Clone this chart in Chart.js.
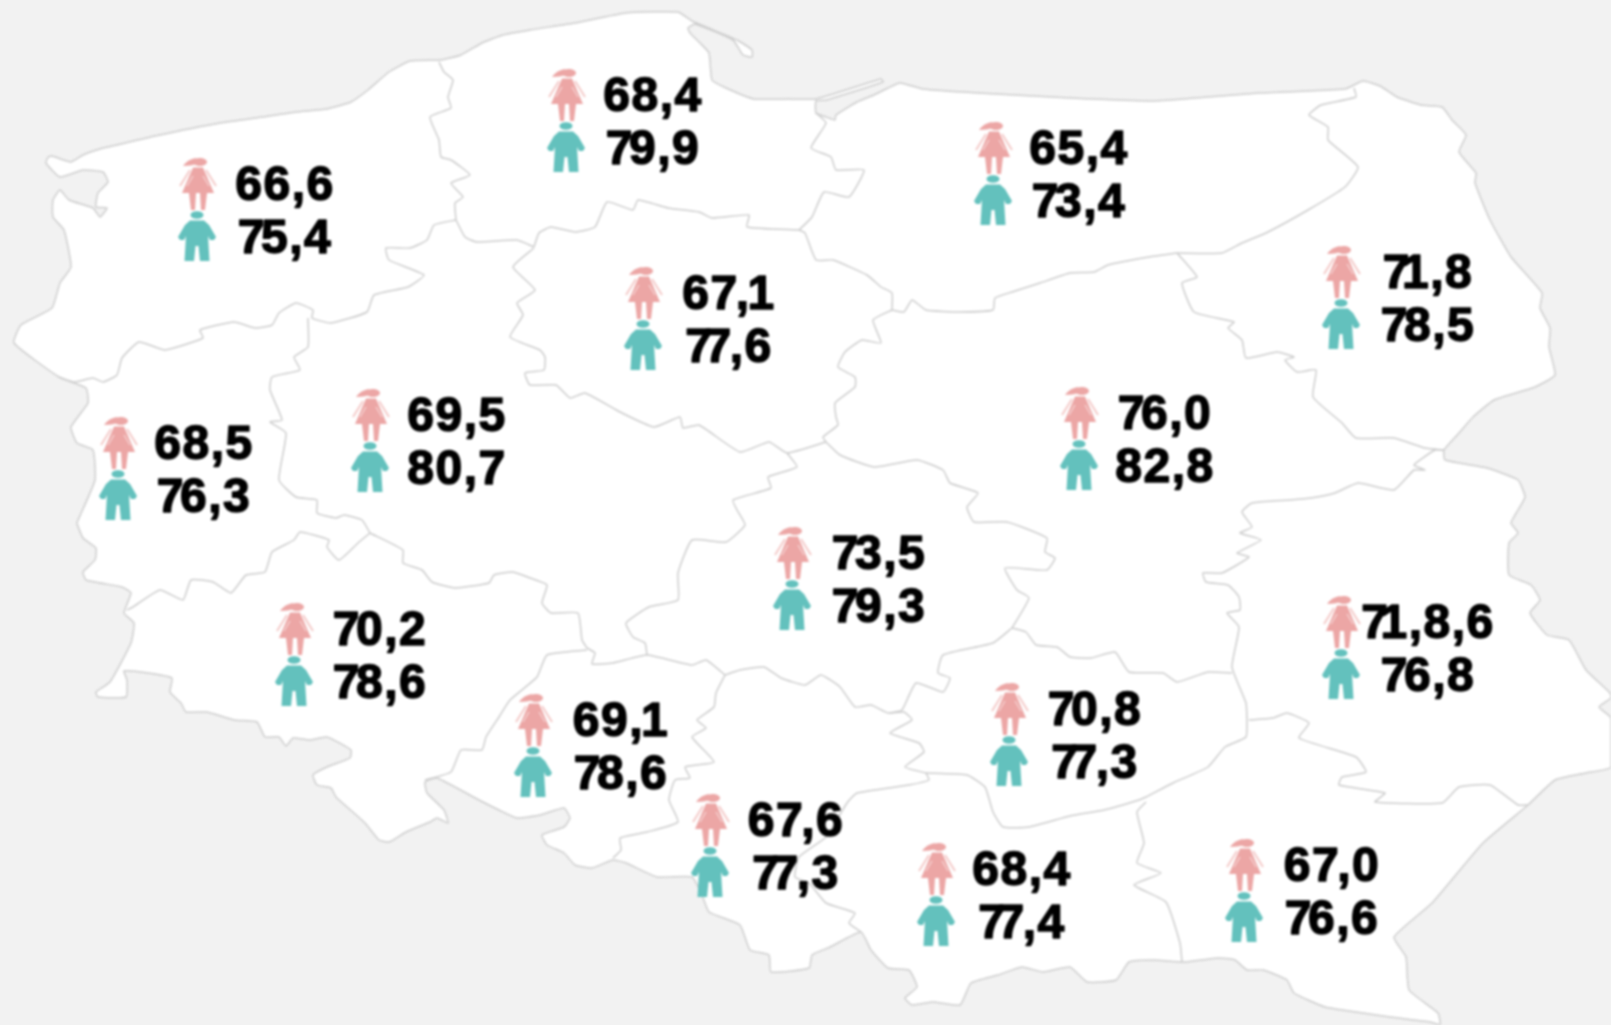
<!DOCTYPE html>
<html lang="pl">
<head>
<meta charset="utf-8">
<title>Długość życia</title>
<script src="https://cdn.jsdelivr.net/npm/chart.js@4"></script>
<style>
  html, body { margin: 0; padding: 0; background: #f2f2f2; overflow: hidden; }
  canvas { display: block; filter: blur(0.8px); }
</style>
</head>
<body>
<canvas id="map" width="1611" height="1025"></canvas>
<script>
// wartości: kobiety / mężczyźni, tak jak na mapie (łącznie z "71,8,6")
const regions = ['zachodniopomorskie', 'pomorskie', 'warmińsko-mazurskie', 'podlaskie', 'kujawsko-pomorskie', 'lubuskie', 'wielkopolskie', 'mazowieckie', 'łódzkie', 'dolnośląskie', 'lubelskie', 'opolskie', 'świętokrzyskie', 'śląskie', 'małopolskie', 'podkarpackie'];
const women = ['66,6', '68,4', '65,4', '71,8', '67,1', '68,5', '69,5', '76,0', '73,5', '70,2', '71,8,6', '69,1', '70,8', '67,6', '68,4', '67,0'];
const men = ['75,4', '79,9', '73,4', '78,5', '77,6', '76,3', '80,7', '82,8', '79,3', '78,6', '76,8', '78,6', '77,3', '77,3', '77,4', '76,6'];

// miejsce regionu na mapie (jednostki mapy)
const iconX = [198, 567, 994, 1342, 644, 119, 371, 1080, 793, 295, 1342, 534, 1010, 711, 937, 1245];
const rowY = [184, 95, 148, 272, 293, 443, 415, 413, 553, 629, 622, 720, 709, 820, 869, 865];
const labelX = [285, 653, 1079, 1428, 729, 204, 457, 1165, 879, 380, 1428, 621, 1095, 796, 1022, 1332];

const countryOutline = [
  [48,157],[52,156],[71,162],[83,155],[100,149],[117,145],[155,136],[220,123],[262,117],[296,112],[327,109],[351,102],[368,90],[389,72],[410,61],[441,60],[461,55],[482,43],[503,35],[530,30],[575,23],[626,13],[678,12],
  [692,21],[737,40],[752,50],[752,57],[743,55],[733,40],[695,24],[688,28],[690,33],[700,43],[709,53],[712,80],[726,88],[754,99],[788,99],[816,99],
  [881,79],[883,82],[826,100],[816,101],[816,113],[826,117],[835,120],[836,115],[857,102],[874,95],[888,88],[900,83],[923,89],[978,93],[1070,98],
  [1153,101],[1208,97],[1259,93],[1345,89],[1363,81],[1380,86],[1397,97],[1421,105],[1442,107],[1452,120],[1466,135],[1459,152],[1476,173],[1475,183],[1490,220],[1511,257],[1542,293],[1540,308],[1550,328],[1549,347],[1555,375],[1535,387],[1494,400],[1473,417],[1459,433],[1444,450],[1445,460],[1487,468],[1518,480],[1525,497],[1518,510],
  [1511,523],[1518,533],[1509,543],[1509,575],[1531,585],[1540,600],[1530,613],[1547,635],[1569,640],[1586,670],[1610,693],[1611,698],[1599,707],[1611,718],[1611,767],[1586,773],[1555,780],[1528,805],[1483,843],[1432,903],[1394,937],[1406,957],[1409,990],[1438,1013],[1440,1025],
  [1430,1022],[1390,1017],[1356,1012],[1325,1007],[1294,993],[1287,980],[1263,970],[1247,970],[1235,960],[1218,958],[1184,962],[1153,960],[1129,962],[1116,980],[1087,982],[1070,967],
  [1043,972],[1022,967],[998,975],[971,983],[960,1005],[933,1002],[912,1005],[905,998],[917,987],[909,970],[888,968],[871,950],[861,932],[830,947],[812,955],[809,968],[771,972],[769,955],[750,950],[740,925],[709,912],[702,895],[692,877],[657,877],[626,863],[613,860],
  [592,868],[575,865],[564,853],[547,845],[542,835],[564,827],[570,818],[564,808],[540,815],[517,818],[499,810],[479,800],[437,778],[425,782],[427,793],[444,810],[448,823],[437,818],[430,822],[406,832],[389,842],[379,840],[365,823],[336,797],[331,788],[317,785],[313,775],[327,767],[350,758],[351,750],[327,737],[310,740],[293,738],[286,746],[279,737],[265,737],[257,722],[234,720],[207,712],[186,712],[181,703],[170,692],[172,678],[148,673],[124,671],[127,680],[126,697],[98,697],[96,692],[110,682],[131,643],[134,623],[124,613],[131,593],[122,587],[86,580],[83,572],[95,560],[96,548],[83,538],[77,523],
  [79,518],[95,480],[93,450],[77,443],[71,427],[88,403],[86,388],[59,377],[14,343],[21,325],[52,308],[60,283],[71,267],[64,230],[53,217],[53,200],[60,190],[69,200],[93,208],[100,217],[107,208],[96,207],[98,193],[108,182],[103,172],[83,170],[60,177],[46,163],[48,157]
];

const regionBorders = [
  // zachodniopomorskie / pomorskie
  [[439,62],[444,72],[453,80],[448,97],[451,108],[430,117],[439,140],[441,157],[451,160],[470,175],[451,183],[463,197],[455,203],[456,220]],
  // zachodniopomorskie / wielkopolskie i lubuskie
  [[456,220],[434,225],[427,240],[410,248],[386,248],[389,260],[424,275],[408,287],[374,295],[367,312],[331,323],[312,318],[313,310],[296,303],[279,313],[272,325],[255,328],[234,322],[200,330],[203,338],[165,350],[139,342],[122,358],[117,375],[103,382],[93,378],[74,382],[59,377]],
  // lubuskie / wielkopolskie
  [[308,318],[308,347],[294,357],[300,370],[272,377],[270,390],[282,420],[270,422],[286,433],[279,480],[296,497],[317,500],[317,513],[336,518],[344,515],[362,520],[370,533]],
  // lubuskie / dolnośląskie
  [[370,533],[358,543],[339,560],[327,547],[329,540],[300,532],[294,540],[272,552],[265,572],[246,575],[231,593],[213,582],[191,580],[183,600],[160,590],[133,607],[127,610]],
  // wielkopolskie / dolnośląskie
  [[370,533],[403,550],[403,563],[422,570],[432,582],[455,588],[489,583],[494,575],[513,572],[530,578],[547,585],[542,603],[551,613],[578,613],[582,640],[587,648]],
  // dolnośląskie / opolskie
  [[587,650],[547,655],[537,677],[510,700],[499,717],[486,737],[482,750],[461,750],[451,772],[425,780]],
  // opolskie / łódzkie
  [[587,648],[595,653],[592,664],[613,663],[647,655],[692,665],[706,660],[725,675]],
  // opolskie / śląskie
  [[725,675],[716,693],[714,707],[697,720],[706,728],[692,737],[714,762],[685,767],[690,778],[675,780],[669,800],[678,822],[647,832],[620,838],[621,850],[613,858]],
  // łódzkie / śląskie, śląskie / świętokrzyskie
  [[725,675],[740,670],[764,667],[781,678],[805,685],[821,675],[840,687],[855,707],[871,705],[888,713],[904,712],[912,720],[890,733],[919,743],[924,752],[905,767],[926,773]],
  // śląskie / małopolskie
  [[926,773],[929,780],[909,785],[857,793],[847,803],[826,837],[799,857],[795,877],[809,883],[826,903],[855,913],[849,923],[861,932]],
  // świętokrzyskie / małopolskie i podkarpackie
  [[926,773],[967,775],[985,787],[993,812],[1003,827],[1029,827],[1070,816],[1104,810],[1139,800],[1146,797],[1173,783],[1208,767],[1225,747],[1246,737],[1247,720]],
  // małopolskie / podkarpackie
  [[1146,802],[1137,812],[1144,843],[1137,863],[1161,873],[1134,885],[1166,902],[1180,943],[1182,962]],
  // mazowieckie i świętokrzyskie / lubelskie
  [[1247,720],[1246,703],[1232,667],[1239,627],[1227,613],[1240,610],[1239,597],[1228,585],[1206,582],[1203,573],[1222,573],[1249,557],[1237,553],[1261,540],[1240,533],[1252,527],[1242,512],[1252,503],[1290,500],[1311,498],[1335,493],[1358,483],[1394,490],[1414,470],[1425,470],[1414,465],[1435,450],[1444,450]],
  // mazowieckie / podlaskie
  [[1444,450],[1425,448],[1394,438],[1356,438],[1342,423],[1313,397],[1316,370],[1297,372],[1285,360],[1294,357],[1277,352],[1246,358],[1242,340],[1228,328],[1234,322],[1194,312],[1182,283],[1197,277],[1177,253]],
  // warmińsko-mazurskie / podlaskie
  [[1177,253],[1222,253],[1242,243],[1266,233],[1308,210],[1345,187],[1358,167],[1328,140],[1328,127],[1309,115],[1321,105],[1356,97],[1354,88]],
  // warmińsko-mazurskie / mazowieckie
  [[1177,253],[1149,257],[1108,265],[1094,272],[1070,273],[1040,283],[1012,292],[995,298],[993,310],[960,312],[926,310],[912,300],[904,312],[892,310]],
  // warmińsko-mazurskie / kujawsko-pomorskie
  [[892,310],[892,293],[881,287],[867,275],[833,260],[816,260],[805,233],[799,230]],
  // warmińsko-mazurskie / pomorskie
  [[799,230],[812,217],[824,192],[849,197],[864,170],[836,170],[831,157],[811,148],[826,123],[816,113]],
  // pomorskie / kujawsko-pomorskie
  [[799,230],[747,227],[749,215],[712,218],[699,212],[668,208],[638,200],[633,210],[607,202],[595,227],[575,232],[551,227],[539,233],[534,247]],
  // pomorskie / wielkopolskie
  [[456,220],[465,237],[477,242],[517,240],[534,247]],
  // kujawsko-pomorskie / wielkopolskie i łódzkie
  [[534,248],[513,267],[535,290],[517,303],[523,315],[510,337],[540,350],[545,357],[544,370],[525,373],[530,385],[556,385],[570,398],[585,393],[620,412],[654,427],[680,417],[683,428],[699,425],[740,452],[769,442],[787,453],[826,442]],
  // kujawsko-pomorskie / mazowieckie
  [[892,310],[873,320],[881,343],[862,340],[845,352],[838,367],[855,377],[855,387],[835,403],[836,417],[838,425],[823,437],[826,442]],
  // łódzkie / wielkopolskie
  [[787,453],[797,467],[768,477],[771,488],[733,500],[737,510],[745,525],[726,542],[692,540],[678,573],[678,600],[649,607],[626,623],[633,637],[645,643],[647,655]],
  // łódzkie / mazowieckie
  [[826,442],[840,455],[874,467],[917,460],[943,470],[950,483],[978,493],[967,507],[974,522],[1007,522],[1047,538],[1045,552],[1055,558],[1047,570],[1005,568],[1017,590],[1029,598],[1012,628]],
  // łódzkie / świętokrzyskie
  [[1012,628],[993,643],[943,655],[938,673],[950,678],[943,692],[916,683],[902,710],[890,713]],
  // mazowieckie / świętokrzyskie
  [[1012,628],[1026,632],[1036,645],[1057,647],[1070,657],[1091,658],[1115,652],[1129,672],[1163,673],[1177,682],[1208,672],[1232,673]],
  // lubelskie / podkarpackie
  [[1249,720],[1273,718],[1287,713],[1309,723],[1299,738],[1356,757],[1366,772],[1342,777],[1339,785],[1385,793],[1375,802],[1442,803],[1459,787],[1490,785],[1518,805],[1528,805]]
];

const LINE = '#cdcdcd';
const PINK = '#eca6a5';
const TEAL = '#63c1bd';
const ROW_GAP = 53;

function toPoints(list) {
  return list.map(p => ({ x: p[0], y: p[1] }));
}

// piktogramy kobiety i mężczyzny
function makeCanvas(draw) {
  const c = document.createElement('canvas');
  c.width = 44;
  c.height = 60;
  const ctx = c.getContext('2d');
  ctx.translate(22, 30);
  draw(ctx);
  return c;
}

const womanIcon = makeCanvas(ctx => {
  ctx.fillStyle = PINK;
  ctx.strokeStyle = PINK;
  // głowa z kucykiem
  ctx.beginPath();
  ctx.ellipse(2, -21, 7, 4, 0, 0, Math.PI * 2);
  ctx.fill();
  ctx.beginPath();
  ctx.moveTo(-2, -25);
  ctx.quadraticCurveTo(-10, -24, -15, -17);
  ctx.quadraticCurveTo(-7, -17, -1, -19);
  ctx.fill();
  // sukienka
  ctx.beginPath();
  ctx.moveTo(-5, -15.5);
  ctx.lineTo(5, -15.5);
  ctx.lineTo(16, 10);
  ctx.lineTo(-16, 10);
  ctx.closePath();
  ctx.fill();
  // nogi
  ctx.beginPath();
  ctx.moveTo(-9, 10);
  ctx.lineTo(-2, 10);
  ctx.lineTo(-3, 27);
  ctx.lineTo(-7, 27);
  ctx.closePath();
  ctx.moveTo(2, 10);
  ctx.lineTo(9, 10);
  ctx.lineTo(7, 27);
  ctx.lineTo(3, 27);
  ctx.closePath();
  ctx.fill();
  // ręce
  ctx.globalAlpha = 0.6;
  ctx.lineWidth = 2;
  ctx.beginPath();
  ctx.moveTo(-8, -13);
  ctx.lineTo(-18, 3);
  ctx.moveTo(8, -13);
  ctx.lineTo(18, 3);
  ctx.stroke();
  ctx.globalAlpha = 0.7;
  ctx.strokeStyle = '#ffffff';
  ctx.lineWidth = 1;
  ctx.beginPath();
  ctx.moveTo(-5, -7);
  ctx.lineTo(-11, 3);
  ctx.moveTo(5, -7);
  ctx.lineTo(11, 3);
  ctx.stroke();
});

const manIcon = makeCanvas(ctx => {
  ctx.fillStyle = TEAL;
  ctx.beginPath();
  ctx.ellipse(0, -21, 6.5, 3.8, 0, 0, Math.PI * 2);
  ctx.fill();
  ctx.beginPath();
  ctx.moveTo(-7, -15.5);
  ctx.lineTo(7, -15.5);
  ctx.lineTo(12, -11);
  ctx.lineTo(19, 1);
  ctx.lineTo(17, 4);
  ctx.lineTo(13, 4);
  ctx.lineTo(11, 0);
  ctx.lineTo(12.5, 25);
  ctx.lineTo(3, 25);
  ctx.lineTo(1.5, 10);
  ctx.lineTo(-1.5, 10);
  ctx.lineTo(-3, 25);
  ctx.lineTo(-12.5, 25);
  ctx.lineTo(-11, 0);
  ctx.lineTo(-13, 4);
  ctx.lineTo(-17, 4);
  ctx.lineTo(-19, 1);
  ctx.lineTo(-12, -11);
  ctx.closePath();
  ctx.fill();
});

// w oryginale siódemki i jedynki są podcięte
function kern(a, b) {
  if (a === '7' && (b === '7' || b === '1')) return -9;
  if (a === '7' && b === ',') return -3;
  if (a === '7') return -5;
  if (a === ',' && b === '1') return -3;
  return 0;
}

function drawValue(ctx, text, cx, y) {
  const track = 1.5;
  const adv = [];
  let total = 0;
  for (let i = 0; i < text.length; i++) {
    const w = ctx.measureText(text[i]).width + track + (i < text.length - 1 ? kern(text[i], text[i + 1]) : 0);
    adv.push(w);
    total += w;
  }
  let x = cx - total / 2;
  for (let i = 0; i < text.length; i++) {
    ctx.fillText(text[i], x, y);
    ctx.strokeText(text[i], x, y);
    x += adv[i];
  }
}

// napisy z wartościami, pozycje przez skale wykresu
const valueLabels = {
  id: 'valueLabels',
  afterDatasetsDraw(chart) {
    const { ctx, scales } = chart;
    ctx.save();
    ctx.font = 'bold 48px "Liberation Sans"';
    ctx.textAlign = 'left';
    ctx.textBaseline = 'middle';
    ctx.fillStyle = '#000000';
    ctx.strokeStyle = '#000000';
    ctx.lineWidth = 1.5;
    ctx.lineJoin = 'round';
    regions.forEach((r, i) => {
      const x = scales.x.getPixelForValue(labelX[i]);
      drawValue(ctx, women[i], x, scales.y.getPixelForValue(rowY[i] + 3));
      drawValue(ctx, men[i], x, scales.y.getPixelForValue(rowY[i] + ROW_GAP + 3));
    });
    ctx.restore();
  }
};

const datasets = [];

datasets.push({
  label: 'Kobiety',
  data: regions.map((r, i) => ({ x: iconX[i], y: rowY[i] - 1 })),
  showLine: false,
  pointStyle: womanIcon
});
datasets.push({
  label: 'Mężczyźni',
  data: regions.map((r, i) => ({ x: iconX[i] - 1, y: rowY[i] + ROW_GAP - 1 })),
  showLine: false,
  pointStyle: manIcon
});

regionBorders.forEach((b, i) => {
  datasets.push({
    label: 'granica ' + i,
    data: toPoints(b),
    showLine: true,
    fill: false,
    borderColor: LINE,
    borderWidth: 1.5,
    tension: 0.15,
    pointRadius: 0
  });
});

// kontur kraju na końcu listy, bo chart.js rysuje od ostatniego zestawu
datasets.push({
  label: 'Polska',
  data: toPoints(countryOutline),
  showLine: true,
  fill: 'shape',
  backgroundColor: '#ffffff',
  borderColor: LINE,
  borderWidth: 1.5,
  tension: 0.15,
  pointRadius: 0
});

new Chart(document.getElementById('map'), {
  type: 'scatter',
  data: { datasets: datasets },
  options: {
    responsive: false,
    animation: false,
    layout: { padding: 0, autoPadding: false },
    plugins: { legend: { display: false }, tooltip: { enabled: false } },
    scales: {
      x: { type: 'linear', display: false, min: 0, max: 1611 },
      y: { type: 'linear', display: false, min: 0, max: 1025, reverse: true }
    }
  },
  plugins: [valueLabels]
});
</script>
</body>
</html>
